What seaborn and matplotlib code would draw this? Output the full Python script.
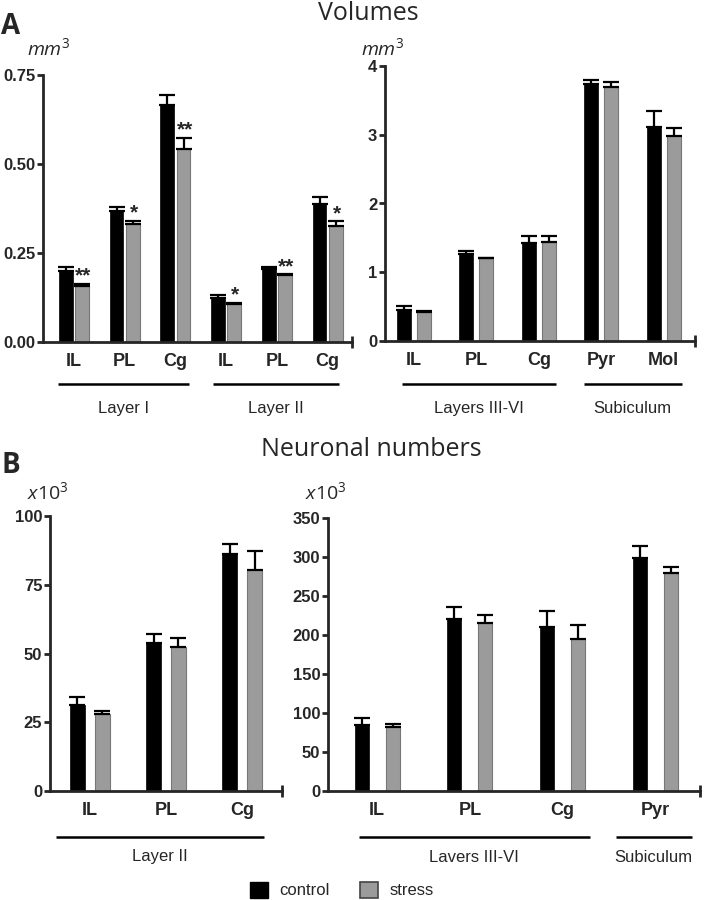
import matplotlib
matplotlib.use("Agg")
import matplotlib.pyplot as plt
import seaborn as sns
import pandas as pd
import numpy as np
from matplotlib.patches import Patch
from matplotlib.transforms import blended_transform_factory

# ---- data ----
groups = ['control', 'stress']

# A, volumes mm3 - Layer I / Layer II
vol_left_labels = ['IL', 'PL', 'Cg', 'IL', 'PL', 'Cg']
vol_left_control = [0.200, 0.368, 0.666, 0.124, 0.206, 0.387]
vol_left_control_sem = [0.011, 0.012, 0.028, 0.007, 0.005, 0.020]
vol_left_stress = [0.157, 0.331, 0.543, 0.108, 0.188, 0.325]
vol_left_stress_sem = [0.007, 0.009, 0.031, 0.002, 0.002, 0.014]
vol_left_stars = ['**', '*', '**', '*', '**', '*']
vol_left_yticks = [0, 0.25, 0.5, 0.75]
vol_left_yticklabels = ['0.00', '0.25', '0.50', '0.75']

# A, volumes mm3 - Layers III-VI / Subiculum
vol_right_labels = ['IL', 'PL', 'Cg', 'Pyr', 'Mol']
vol_right_control = [0.447, 1.262, 1.432, 3.733, 3.107]
vol_right_control_sem = [0.058, 0.044, 0.102, 0.063, 0.243]
vol_right_stress = [0.427, 1.209, 1.437, 3.694, 2.980]
vol_right_stress_sem = [0.005, 0.005, 0.087, 0.073, 0.117]
vol_right_yticks = [0, 1, 2, 3, 4]

# B, neuronal numbers x10^3 - Layer II
num_left_labels = ['IL', 'PL', 'Cg']
num_left_control = [31.3, 53.7, 86.1]
num_left_control_sem = [2.9, 3.4, 3.8]
num_left_stress = [28.1, 52.5, 80.4]
num_left_stress_sem = [1.0, 3.0, 6.9]
num_left_yticks = [0, 25, 50, 75, 100]

# B, neuronal numbers x10^3 - Layers III-VI / Subiculum
num_right_labels = ['IL', 'PL', 'Cg', 'Pyr']
num_right_control = [84.5, 221, 210, 299]
num_right_control_sem = [9.0, 14.6, 20.5, 15.0]
num_right_stress = [81.5, 216, 195, 280]
num_right_stress_sem = [4.5, 10.0, 18.0, 7.5]
num_right_yticks = [0, 50, 100, 150, 200, 250, 300, 350]

# ---- style ----
sns.set_style("ticks")
plt.rcParams['font.family'] = ['Liberation Sans', 'DejaVu Sans']
plt.rcParams['mathtext.fontset'] = 'custom'
plt.rcParams['mathtext.rm'] = 'Open Sans'
plt.rcParams['mathtext.it'] = 'Open Sans:italic'

palette = {'control': 'black', 'stress': '#9b9b9b'}
W, H = 704, 900

fig = plt.figure(figsize=(W / 100, H / 100), dpi=100)


def px_box(l, t, r, b):
    return [l / W, 1 - b / H, (r - l) / W, (b - t) / H]


def fy(y):
    return 1 - y / H


def panel(ax, labels, ctrl, ctrl_sem, stress, stress_sem, width, gap,
          xlim, ylim, yticks, yticklabels=None):
    n = len(labels)
    keys = [f'{lab}_{i}' for i, lab in enumerate(labels)]
    df = pd.DataFrame({
        'region': keys * 2,
        'group': ['control'] * n + ['stress'] * n,
        'value': list(ctrl) + list(stress),
    })
    sns.barplot(data=df, x='region', y='value', hue='group', order=keys,
                hue_order=groups, palette=palette, width=width, gap=gap,
                errorbar=None, saturation=1, legend=False, ax=ax)
    for cont, sem in zip(ax.containers, [ctrl_sem, stress_sem]):
        bars = sorted(cont, key=lambda b: b.get_x())
        xs = [b.get_x() + b.get_width() / 2 for b in bars]
        ys = [b.get_height() for b in bars]
        ax.errorbar(xs, ys, yerr=[np.zeros(n), sem], fmt='none', ecolor='black',
                    elinewidth=1.6, capsize=6, capthick=1.6, zorder=1)
    for b in ax.containers[1]:
        b.set_edgecolor('#777777')
        b.set_linewidth(0.8)
    for b in ax.containers[0]:
        b.set_edgecolor('black')
        b.set_linewidth(0.5)
    ax.set_xlim(*xlim)
    ax.set_ylim(*ylim)
    ax.set_xticks(range(n))
    ax.set_xticklabels(labels)
    ax.set_yticks(yticks)
    if yticklabels is not None:
        ax.set_yticklabels(yticklabels)
    ax.set_xlabel('')
    ax.set_ylabel('')
    sns.despine(ax=ax)
    for s in ['left', 'bottom']:
        ax.spines[s].set_linewidth(2.0)
    ax.tick_params(axis='y', length=4, width=2, labelsize=12, pad=1.5)
    ax.tick_params(axis='x', length=0, pad=8, labelsize=13)
    ax.set_xticks([xlim[1]], minor=True)
    ax.tick_params(axis='x', which='minor', direction='inout', length=9, width=2)
    for lbl in ax.get_xticklabels() + ax.get_yticklabels():
        lbl.set_fontweight('bold')


def bracket(ax, x0, x1, y_line, label, y_text):
    trans = blended_transform_factory(ax.transData, fig.transFigure)
    ax.plot([x0, x1], [fy(y_line)] * 2, transform=trans, color='black',
            lw=1.8, clip_on=False, solid_capstyle='butt')
    ax.text((x0 + x1) / 2, fy(y_text), label, transform=trans, ha='center',
            va='center', fontsize=12)


# ---- A: volumes ----
axA1 = fig.add_axes(px_box(43, 75, 352, 342))
panel(axA1, vol_left_labels, vol_left_control, vol_left_control_sem,
      vol_left_stress, vol_left_stress_sem, 0.64, 0.16,
      (-0.61, 5.48), (0, 0.75), vol_left_yticks, vol_left_yticklabels)
for i, star in enumerate(vol_left_stars):
    top = vol_left_stress[i] + vol_left_stress_sem[i]
    axA1.annotate(star, (i + 0.18, top), xytext=(0, 1.5), textcoords='offset points',
                  ha='center', va='baseline', fontsize=15, fontweight='bold')
bracket(axA1, -0.32, 2.27, 384, 'Layer I', 408)
bracket(axA1, 2.74, 5.23, 384, 'Layer II', 408)

axA2 = fig.add_axes(px_box(385, 66, 695, 341))
panel(axA2, vol_right_labels, vol_right_control, vol_right_control_sem,
      vol_right_stress, vol_right_stress_sem, 0.64, 0.29,
      (-0.46, 4.5), (0, 4), vol_right_yticks)
bracket(axA2, -0.19, 2.28, 384, 'Layers III-VI', 408)
bracket(axA2, 2.72, 4.29, 384, 'Subiculum', 408)

# ---- B: neuronal numbers ----
axB1 = fig.add_axes(px_box(50, 516, 282, 791))
panel(axB1, num_left_labels, num_left_control, num_left_control_sem,
      num_left_stress, num_left_stress_sem, 0.65, 0.40,
      (-0.52, 2.52), (0, 100), num_left_yticks)
bracket(axB1, -0.44, 2.29, 837, 'Layer II', 857)

axB2 = fig.add_axes(px_box(328, 518, 700, 791))
panel(axB2, num_right_labels, num_right_control, num_right_control_sem,
      num_right_stress, num_right_stress_sem, 0.67, 0.55,
      (-0.53, 3.48), (0, 350), num_right_yticks)
bracket(axB2, -0.2, 2.29, 837, 'Lavers III-VI', 857)
bracket(axB2, 2.57, 3.39, 837, 'Subiculum', 857)

# ---- titles, panel letters, units ----
fig.text(368 / W, fy(14), 'Volumes', ha='center', va='center', fontsize=18,
         family='Open Sans')
fig.text(371 / W, fy(449), 'Neuronal numbers', ha='center', va='center',
         fontsize=18, family='Open Sans')
fig.text(1 / W, fy(27), 'A', ha='left', va='center', fontsize=20,
         fontweight='bold', family='Open Sans')
fig.text(1 / W, fy(465), 'B', ha='left', va='center', fontsize=20,
         fontweight='bold', family='Open Sans')
for x, y in [(27, 48), (361, 48)]:
    fig.text(x / W, fy(y), r'$mm^{\mathit{3}}$', ha='left', va='center', fontsize=14)
for x, y in [(27, 492), (305, 492)]:
    fig.text(x / W, fy(y), r'$\mathit{x10}^{\mathit{3}}$', ha='left', va='center',
             fontsize=14)

# ---- legend ----
handles = [Patch(facecolor=palette['control'], edgecolor='black'),
           Patch(facecolor=palette['stress'], edgecolor='#444444', linewidth=1.2)]
fig.legend(handles, groups, loc='center', bbox_to_anchor=(342 / W, fy(890)),
           ncol=2, frameon=False, handlelength=1.1, handleheight=1.1,
           handletextpad=0.7, columnspacing=1.8, fontsize=12)

fig.savefig("out.png", dpi=100)
